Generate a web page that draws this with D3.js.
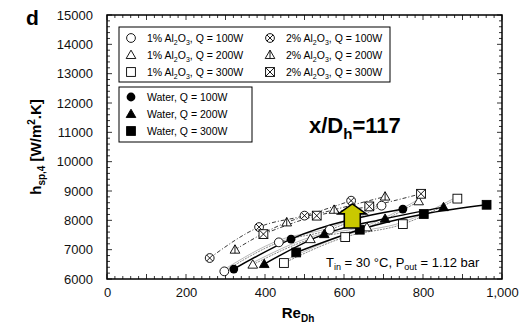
<!DOCTYPE html>
<html>
<head>
<meta charset="utf-8">
<script src="https://cdn.jsdelivr.net/npm/d3@7"></script>
<style>
  body { margin: 0; background: #fff; }
  svg { display: block; font-family: "Liberation Sans", Arial, Helvetica, sans-serif; }
</style>
</head>
<body>
<svg id="chart" width="529" height="331"></svg>
<script>
// Heat transfer coefficient at x/Dh = 117 vs. Reynolds number
const xTicks = [0, 200, 400, 600, 800, 1000];
const xTickLabels = ["0", "200", "400", "600", "800", "1,000"];
const yTicks = [6000, 7000, 8000, 9000, 10000, 11000, 12000, 13000, 14000, 15000];

// [Re_Dh, h] pairs
const nf1_q100 = [[297, 6260], [435, 7250], [564, 7680], [695, 8500]];
const nf1_q200 = [[369, 6490], [515, 7360], [658, 7760], [789, 8650]];
const nf1_q300 = [[448, 6545], [603, 7430], [749, 7870], [887, 8740]];
const nf2_q100 = [[260, 6715], [385, 7770], [500, 8160], [618, 8670]];
const nf2_q200 = [[324, 7000], [455, 7930], [575, 8360], [704, 8810]];
const nf2_q300 = [[396, 7530], [531, 8160], [664, 8475], [795, 8905]];
const water_q100 = [[321, 6340], [466, 7360], [749, 8385]];
const water_q200 = [[398, 6510], [550, 7530], [704, 8055], [852, 8450]];
const water_q300 = [[479, 6905], [640, 7680], [802, 8215], [961, 8530]];

// enhancement arrow: Re position and h range
const arrowRe = 621;
const arrowFrom = 7740;
const arrowTo = 8560;

const svg = d3.select("#chart");
const x = d3.scaleLinear().domain([0, 1000]).range([107, 502]);
const y = d3.scaleLinear().domain([6000, 15000]).range([279, 15]);

// ---- axes with inward ticks on all four sides ----
const g = svg.append("g");
const minorX = d3.range(0, 1001, 20);
const minorY = d3.range(6000, 15001, 200);
function tickLen(v, step) { return v % step === 0 ? 5 : 3; }
minorX.forEach(v => {
  const L = tickLen(v, 100);
  g.append("line").attr("x1", x(v)).attr("x2", x(v)).attr("y1", 279).attr("y2", 279 - L).attr("stroke", "#000").attr("stroke-width", 0.8);
  g.append("line").attr("x1", x(v)).attr("x2", x(v)).attr("y1", 15).attr("y2", 15 + L).attr("stroke", "#000").attr("stroke-width", 0.8);
});
minorY.forEach(v => {
  const L = tickLen(v, 1000);
  g.append("line").attr("x1", 107).attr("x2", 107 + L).attr("y1", y(v)).attr("y2", y(v)).attr("stroke", "#000").attr("stroke-width", 0.8);
  g.append("line").attr("x1", 502).attr("x2", 502 - L).attr("y1", y(v)).attr("y2", y(v)).attr("stroke", "#000").attr("stroke-width", 0.8);
});
g.append("rect").attr("x", 107).attr("y", 15).attr("width", 395).attr("height", 264)
  .attr("fill", "none").attr("stroke", "#000").attr("stroke-width", 1.5);

const xAxis = d3.axisBottom(x).tickValues(xTicks).tickSize(0).tickPadding(9)
  .tickFormat((d, i) => xTickLabels[i]);
svg.append("g").attr("transform", "translate(0,279)").call(xAxis)
  .call(a => a.select(".domain").remove())
  .selectAll("text").attr("font-size", 13).attr("font-family", "Liberation Sans, Arial, sans-serif").attr("fill", "#111");

const yAxis = d3.axisLeft(y).tickValues(yTicks).tickSize(0).tickPadding(14).tickFormat(d3.format("d"));
svg.append("g").attr("transform", "translate(107,0)").call(yAxis)
  .call(a => a.select(".domain").remove())
  .selectAll("text").attr("font-size", 13).attr("font-family", "Liberation Sans, Arial, sans-serif").attr("fill", "#111");

// ---- axis titles ----
const xt = svg.append("text").attr("x", 298).attr("y", 318).attr("text-anchor", "middle")
  .attr("font-size", 15).attr("font-weight", "bold");
xt.append("tspan").text("Re");
xt.append("tspan").attr("font-size", 10).attr("dy", 4).text("Dh");

const yt = svg.append("text").attr("transform", "translate(41,147) rotate(-90)").attr("text-anchor", "middle")
  .attr("font-size", 15).attr("font-weight", "bold");
yt.append("tspan").text("h");
yt.append("tspan").attr("font-size", 10).attr("dy", 4).text("sp,4");
yt.append("tspan").attr("dy", -4).text(" [W/m");
yt.append("tspan").attr("font-size", 10).attr("dy", -6).text("2");
yt.append("tspan").attr("dy", 6).text(".K]");

svg.append("text").attr("x", 26).attr("y", 25).attr("font-size", 21).attr("font-weight", "bold").text("d");

// ---- marker drawing ----
function drawMarker(sel, type, cx, cy) {
  const r = 4.4, s = 4.4;
  const m = sel.append("g").attr("transform", `translate(${cx},${cy})`);
  const stroke = "#000", sw = 0.9;
  if (type === "circle" || type === "circleX") {
    m.append("circle").attr("r", r).attr("fill", "#fff").attr("stroke", stroke).attr("stroke-width", sw);
    if (type === "circleX") {
      const d = r * 0.7;
      m.append("path").attr("d", `M${-d},${-d}L${d},${d}M${-d},${d}L${d},${-d}`).attr("stroke", stroke).attr("stroke-width", sw);
    }
  } else if (type === "dot") {
    m.append("circle").attr("r", r).attr("fill", "#000");
  } else if (type === "tri" || type === "triLine" || type === "triFill") {
    const p = `M0,${-s * 1.1}L${s * 1.1},${s * 0.8}L${-s * 1.1},${s * 0.8}Z`;
    m.append("path").attr("d", p).attr("fill", type === "triFill" ? "#000" : "#fff")
      .attr("stroke", stroke).attr("stroke-width", sw).attr("stroke-linejoin", "miter");
    if (type === "triLine") m.append("path").attr("d", `M0,${-s * 1.1}L0,${s * 0.8}`).attr("stroke", stroke).attr("stroke-width", sw);
  } else if (type === "sq" || type === "sqX" || type === "sqFill") {
    m.append("rect").attr("x", -s).attr("y", -s).attr("width", 2 * s).attr("height", 2 * s)
      .attr("fill", type === "sqFill" ? "#000" : "#fff").attr("stroke", stroke).attr("stroke-width", sw);
    if (type === "sqX") m.append("path").attr("d", `M${-s},${-s}L${s},${s}M${-s},${s}L${s},${-s}`).attr("stroke", stroke).attr("stroke-width", sw);
  }
}

const series = [
  { data: nf1_q100, marker: "circle", line: "nf1" },
  { data: nf1_q200, marker: "tri", line: "nf1" },
  { data: nf1_q300, marker: "sq", line: "nf1" },
  { data: water_q100, marker: "dot", line: "water" },
  { data: water_q200, marker: "triFill", line: "water" },
  { data: water_q300, marker: "sqFill", line: "water" },
  { data: nf2_q100, marker: "circleX", line: "nf2" },
  { data: nf2_q200, marker: "triLine", line: "nf2" },
  { data: nf2_q300, marker: "sqX", line: "nf2" }
];

const lineGen = d3.line().x(d => x(d[0])).y(d => y(d[1])).curve(d3.curveMonotoneX);
const lineLayer = svg.append("g");
series.forEach(s => {
  const p = lineLayer.append("path").attr("d", lineGen(s.data)).attr("fill", "none");
  if (s.line === "water") {
    p.attr("stroke", "#000").attr("stroke-width", 1.5);
  } else if (s.line === "nf1") {
    lineLayer.append("path").attr("d", lineGen(s.data)).attr("fill", "none")
      .attr("transform", "translate(0,-2)").attr("stroke", "#999").attr("stroke-width", 0.7);
    p.attr("stroke", "#666").attr("stroke-width", 0.8).attr("stroke-dasharray", "2,1");
  } else {
    p.attr("stroke", "#222").attr("stroke-width", 0.9).attr("stroke-dasharray", "4,2,1,2");
  }
});

const markLayer = svg.append("g");
series.forEach(s => s.data.forEach(d => drawMarker(markLayer, s.marker, x(d[0]), y(d[1]))));

// ---- enhancement arrow ----
const ax = x(arrowRe), yTop = y(arrowTo), yBot = y(arrowFrom);
const shaftHalf = 8, headHalf = 14, headH = 10;
svg.append("path")
  .attr("d", `M${ax - shaftHalf},${yBot}L${ax - shaftHalf},${yTop + headH}L${ax - headHalf},${yTop + headH}` +
    `L${ax},${yTop}L${ax + headHalf},${yTop + headH}L${ax + shaftHalf},${yTop + headH}L${ax + shaftHalf},${yBot}Z`)
  .attr("fill", "#c9c800").attr("stroke", "#000").attr("stroke-width", 1.6).attr("stroke-linejoin", "miter");

// ---- annotations ----
const ann = svg.append("text").attr("x", 309).attr("y", 133).attr("font-size", 22).attr("font-weight", "bold");
ann.append("tspan").text("x/D");
ann.append("tspan").attr("font-size", 15).attr("dy", 6).text("h");
ann.append("tspan").attr("dy", -6).text("=117");

const cond = svg.append("text").attr("x", 326).attr("y", 267).attr("font-size", 13);
cond.append("tspan").text("T");
cond.append("tspan").attr("font-size", 9).attr("dy", 3).text("in");
cond.append("tspan").attr("dy", -3).text(" = 30 °C, P");
cond.append("tspan").attr("font-size", 9).attr("dy", 3).text("out");
cond.append("tspan").attr("dy", -3).text(" = 1.12 bar");

// ---- legends ----
const leg1 = [
  { marker: "circle", pct: "1%", q: "100W", col: 0 },
  { marker: "tri", pct: "1%", q: "200W", col: 0 },
  { marker: "sq", pct: "1%", q: "300W", col: 0 },
  { marker: "circleX", pct: "2%", q: "100W", col: 1 },
  { marker: "triLine", pct: "2%", q: "200W", col: 1 },
  { marker: "sqX", pct: "2%", q: "300W", col: 1 }
];
const leg2 = [
  { marker: "dot", q: "100W" },
  { marker: "triFill", q: "200W" },
  { marker: "sqFill", q: "300W" }
];
const rowsY = [38, 55, 72];
const L = svg.append("g");
L.append("rect").attr("x", 119).attr("y", 27).attr("width", 271).attr("height", 55)
  .attr("fill", "#fff").attr("stroke", "#000").attr("stroke-width", 1);
leg1.forEach((d, i) => {
  const row = i % 3, cx = d.col === 0 ? 131 : 270, tx = d.col === 0 ? 147 : 286;
  drawMarker(L, d.marker, cx, rowsY[row]);
  const t = L.append("text").attr("x", tx).attr("y", rowsY[row] + 4).attr("font-size", 10.5);
  t.append("tspan").text(`${d.pct} Al`);
  t.append("tspan").attr("font-size", 7).attr("dy", 2.5).text("2");
  t.append("tspan").attr("dy", -2.5).text("O");
  t.append("tspan").attr("font-size", 7).attr("dy", 2.5).text("3");
  t.append("tspan").attr("dy", -2.5).text(`, Q = ${d.q}`);
});
const rows2 = [97, 114, 131];
L.append("rect").attr("x", 119).attr("y", 87).attr("width", 133).attr("height", 55)
  .attr("fill", "#fff").attr("stroke", "#000").attr("stroke-width", 1);
leg2.forEach((d, i) => {
  drawMarker(L, d.marker, 131, rows2[i]);
  L.append("text").attr("x", 147).attr("y", rows2[i] + 4).attr("font-size", 10.5).text(`Water, Q = ${d.q}`);
});
</script>
</body>
</html>
